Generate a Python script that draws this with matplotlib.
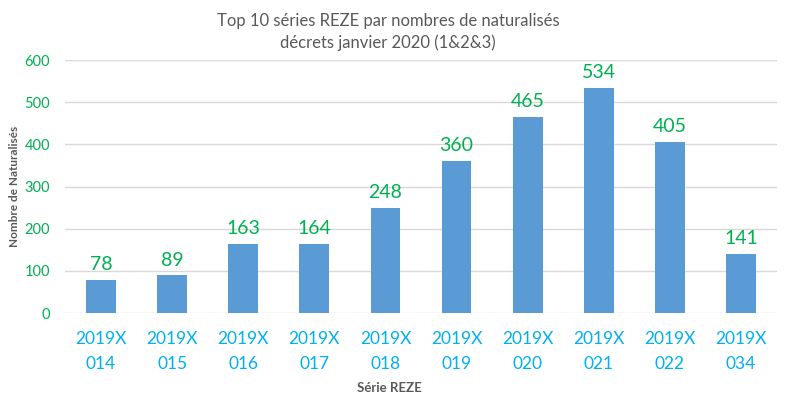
import matplotlib
matplotlib.use("Agg")
import matplotlib.pyplot as plt

categories = ["2019X\n014", "2019X\n015", "2019X\n016", "2019X\n017", "2019X\n018",
              "2019X\n019", "2019X\n020", "2019X\n021", "2019X\n022", "2019X\n034"]
values = [78, 89, 163, 164, 248, 360, 465, 534, 405, 141]
yticks = [0, 100, 200, 300, 400, 500, 600]

plt.rcParams['font.family'] = ['Lato', 'DejaVu Sans']

fig = plt.figure(figsize=(7.87, 3.99), dpi=100)
ax = fig.add_axes([0.0832, 0.2155, 0.9035, 0.6341])

x = list(range(len(categories)))
bars = ax.bar(x, values, width=0.42, color="#5B9BD5", zorder=3)
for xi, v in zip(x, values):
    ax.annotate(str(v), (xi, v), xytext=(0, 5), textcoords="offset points",
                ha="center", va="bottom", fontsize=14, color="#00B050")

ax.set_xlim(-0.5, len(categories) - 0.5)
ax.set_ylim(0, 600)
ax.set_yticks(yticks)
ax.set_yticklabels([str(t) for t in yticks], color="#00B050", fontsize=10.5)
ax.set_xticks(x)
ax.set_xticklabels(categories, color="#00B0F0", fontsize=12.5, linespacing=1.7)
ax.tick_params(axis='y', length=0, pad=11)
ax.tick_params(axis='x', length=0, pad=13)
ax.grid(axis='y', color="#D9D9D9", linewidth=1, zorder=0)
for s in ax.spines.values():
    s.set_visible(False)

ax.set_ylabel("Nombre de Naturalisés", fontsize=8.5, fontweight="bold", color="#595959")
ax.yaxis.set_label_coords(-0.064, 0.5)
ax.set_xlabel("Série REZE", fontsize=9.5, fontweight="bold", color="#595959")
ax.xaxis.set_label_coords(0.455, -0.273)

fig.text(0.493, 0.968, "Top 10 séries REZE par nombres de naturalisés\ndécrets janvier 2020 (1&2&3)",
         ha="center", va="top", fontsize=12, color="#595959", linespacing=1.45)

fig.savefig("out.png", dpi=100)
